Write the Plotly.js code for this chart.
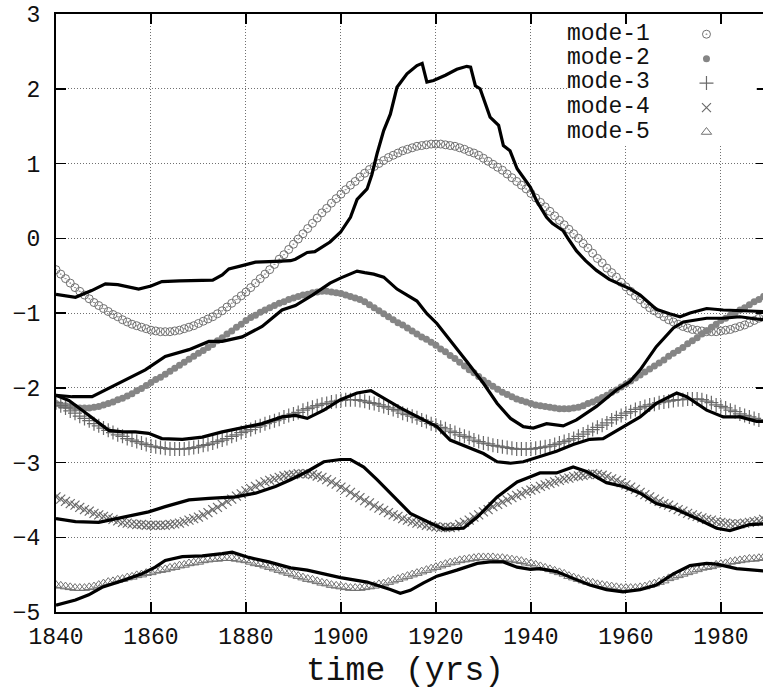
<!DOCTYPE html>
<html>
<head>
<meta charset="utf-8">
<script src="https://cdn.plot.ly/plotly-3.0.1.min.js"></script>
<style>
html,body{margin:0;padding:0;overflow:hidden;background:#fff;}
#chart{width:767px;height:689px;}
</style>
</head>
<body>
<div id="chart"></div>
<script>
// ---- data ----
const yearStart = 1840, yearEnd = 1989;
const years = [];
for (let y = yearStart; y <= yearEnd; y++) years.push(y);

const seriesNames = ["mode-1", "mode-2", "mode-3", "mode-4", "mode-5"];

const mode1 = [-0.42,-0.48,-0.54,-0.60,-0.66,-0.71,-0.76,-0.81,-0.86,-0.90,
-0.94,-0.98,-1.02,-1.05,-1.09,-1.12,-1.15,-1.17,-1.19,-1.21,
-1.23,-1.24,-1.25,-1.25,-1.25,-1.24,-1.23,-1.21,-1.19,-1.17,
-1.14,-1.11,-1.08,-1.05,-1.01,-0.97,-0.92,-0.87,-0.82,-0.77,
-0.72,-0.66,-0.60,-0.54,-0.48,-0.42,-0.35,-0.28,-0.22,-0.15,
-0.08,-0.01,0.06,0.13,0.20,0.27,0.34,0.40,0.47,0.53,
0.59,0.65,0.71,0.76,0.82,0.87,0.92,0.96,1.00,1.04,
1.08,1.11,1.14,1.17,1.19,1.21,1.23,1.24,1.25,1.26,
1.26,1.26,1.25,1.24,1.23,1.21,1.19,1.16,1.14,1.11,
1.07,1.03,0.99,0.95,0.91,0.86,0.81,0.76,0.71,0.66,
0.60,0.54,0.48,0.42,0.36,0.30,0.24,0.18,0.12,0.06,
0.00,-0.07,-0.13,-0.20,-0.27,-0.33,-0.40,-0.46,-0.52,-0.59,
-0.65,-0.71,-0.77,-0.82,-0.88,-0.93,-0.97,-1.01,-1.05,-1.09,
-1.12,-1.15,-1.18,-1.20,-1.22,-1.23,-1.24,-1.25,-1.25,-1.25,
-1.24,-1.23,-1.22,-1.20,-1.18,-1.16,-1.13,-1.10,-1.07,-1.03];

const mode2 = [-2.21,-2.23,-2.24,-2.25,-2.26,-2.27,-2.27,-2.27,-2.26,-2.25,
-2.23,-2.21,-2.19,-2.16,-2.14,-2.11,-2.08,-2.04,-2.01,-1.97,
-1.93,-1.89,-1.86,-1.82,-1.78,-1.74,-1.70,-1.66,-1.62,-1.58,
-1.54,-1.50,-1.46,-1.42,-1.37,-1.33,-1.28,-1.24,-1.19,-1.15,
-1.10,-1.06,-1.03,-0.99,-0.96,-0.93,-0.90,-0.87,-0.85,-0.82,
-0.80,-0.78,-0.76,-0.75,-0.73,-0.72,-0.71,-0.71,-0.72,-0.73,
-0.74,-0.76,-0.78,-0.80,-0.82,-0.85,-0.89,-0.93,-0.97,-1.01,
-1.05,-1.09,-1.13,-1.16,-1.20,-1.24,-1.28,-1.32,-1.35,-1.39,
-1.43,-1.48,-1.52,-1.57,-1.61,-1.66,-1.71,-1.76,-1.80,-1.85,
-1.90,-1.94,-1.98,-2.02,-2.06,-2.09,-2.12,-2.15,-2.17,-2.19,
-2.21,-2.23,-2.24,-2.25,-2.26,-2.27,-2.28,-2.28,-2.28,-2.27,
-2.26,-2.24,-2.21,-2.19,-2.16,-2.13,-2.10,-2.06,-2.03,-1.99,
-1.95,-1.91,-1.87,-1.83,-1.79,-1.75,-1.71,-1.67,-1.63,-1.58,
-1.54,-1.50,-1.46,-1.41,-1.37,-1.33,-1.28,-1.24,-1.19,-1.15,
-1.10,-1.07,-1.03,-1.00,-0.96,-0.93,-0.89,-0.85,-0.82,-0.78];

const mode3 = [-2.20,-2.24,-2.27,-2.31,-2.34,-2.38,-2.41,-2.44,-2.48,-2.51,
-2.54,-2.57,-2.60,-2.63,-2.65,-2.68,-2.70,-2.72,-2.74,-2.76,
-2.78,-2.79,-2.80,-2.81,-2.82,-2.82,-2.82,-2.82,-2.81,-2.80,
-2.79,-2.77,-2.76,-2.74,-2.72,-2.70,-2.68,-2.65,-2.63,-2.60,
-2.58,-2.56,-2.53,-2.51,-2.48,-2.46,-2.44,-2.42,-2.39,-2.37,
-2.35,-2.33,-2.30,-2.28,-2.26,-2.24,-2.22,-2.21,-2.19,-2.18,
-2.17,-2.16,-2.16,-2.16,-2.17,-2.18,-2.20,-2.21,-2.23,-2.25,
-2.27,-2.29,-2.31,-2.34,-2.36,-2.38,-2.40,-2.43,-2.45,-2.48,
-2.50,-2.53,-2.55,-2.58,-2.60,-2.63,-2.65,-2.67,-2.70,-2.72,
-2.74,-2.75,-2.77,-2.78,-2.79,-2.80,-2.81,-2.82,-2.82,-2.82,
-2.82,-2.81,-2.80,-2.79,-2.78,-2.76,-2.74,-2.72,-2.70,-2.68,
-2.65,-2.62,-2.59,-2.56,-2.53,-2.50,-2.47,-2.43,-2.40,-2.37,
-2.34,-2.32,-2.29,-2.27,-2.25,-2.23,-2.22,-2.20,-2.19,-2.18,
-2.17,-2.16,-2.16,-2.15,-2.15,-2.15,-2.16,-2.18,-2.20,-2.23,
-2.25,-2.27,-2.30,-2.32,-2.35,-2.37,-2.39,-2.41,-2.43,-2.45];

const mode4 = [-3.46,-3.49,-3.52,-3.55,-3.57,-3.60,-3.63,-3.65,-3.68,-3.70,
-3.72,-3.74,-3.76,-3.78,-3.80,-3.81,-3.82,-3.83,-3.83,-3.84,
-3.84,-3.84,-3.84,-3.84,-3.83,-3.82,-3.81,-3.79,-3.77,-3.75,
-3.73,-3.70,-3.67,-3.63,-3.60,-3.56,-3.52,-3.49,-3.45,-3.42,
-3.38,-3.35,-3.32,-3.29,-3.26,-3.24,-3.22,-3.20,-3.18,-3.17,
-3.16,-3.15,-3.15,-3.15,-3.16,-3.18,-3.20,-3.23,-3.26,-3.29,
-3.33,-3.36,-3.40,-3.44,-3.47,-3.51,-3.54,-3.58,-3.61,-3.64,
-3.67,-3.70,-3.72,-3.75,-3.77,-3.79,-3.81,-3.82,-3.84,-3.85,
-3.86,-3.87,-3.87,-3.87,-3.86,-3.83,-3.80,-3.77,-3.73,-3.70,
-3.66,-3.63,-3.59,-3.56,-3.53,-3.50,-3.47,-3.44,-3.42,-3.39,
-3.37,-3.35,-3.32,-3.30,-3.28,-3.26,-3.24,-3.22,-3.21,-3.19,
-3.18,-3.17,-3.16,-3.15,-3.16,-3.17,-3.19,-3.22,-3.24,-3.27,
-3.30,-3.33,-3.36,-3.40,-3.43,-3.46,-3.49,-3.52,-3.55,-3.57,
-3.60,-3.63,-3.65,-3.68,-3.70,-3.72,-3.74,-3.76,-3.77,-3.79,
-3.80,-3.81,-3.82,-3.82,-3.82,-3.81,-3.80,-3.79,-3.78,-3.76];

const mode5 = [-4.64,-4.65,-4.66,-4.67,-4.68,-4.68,-4.68,-4.67,-4.66,-4.64,
-4.62,-4.60,-4.59,-4.57,-4.56,-4.54,-4.53,-4.51,-4.50,-4.48,
-4.47,-4.45,-4.44,-4.43,-4.41,-4.40,-4.38,-4.37,-4.35,-4.34,
-4.33,-4.31,-4.30,-4.29,-4.29,-4.28,-4.28,-4.28,-4.29,-4.30,
-4.31,-4.33,-4.35,-4.36,-4.38,-4.40,-4.42,-4.44,-4.46,-4.48,
-4.50,-4.52,-4.54,-4.56,-4.57,-4.59,-4.61,-4.62,-4.64,-4.65,
-4.66,-4.67,-4.68,-4.68,-4.68,-4.67,-4.66,-4.65,-4.63,-4.62,
-4.60,-4.58,-4.56,-4.54,-4.52,-4.50,-4.48,-4.46,-4.44,-4.42,
-4.40,-4.38,-4.36,-4.34,-4.33,-4.31,-4.30,-4.29,-4.28,-4.27,
-4.27,-4.27,-4.27,-4.28,-4.28,-4.29,-4.30,-4.31,-4.32,-4.34,
-4.35,-4.37,-4.39,-4.41,-4.43,-4.45,-4.47,-4.49,-4.52,-4.54,
-4.56,-4.58,-4.60,-4.61,-4.63,-4.64,-4.65,-4.66,-4.67,-4.68,
-4.68,-4.68,-4.68,-4.67,-4.66,-4.64,-4.62,-4.60,-4.58,-4.55,
-4.53,-4.51,-4.49,-4.47,-4.45,-4.43,-4.41,-4.40,-4.39,-4.37,
-4.36,-4.35,-4.33,-4.32,-4.31,-4.30,-4.29,-4.29,-4.28,-4.27];

// observed (black) curves
const obs1Years = [1840,1844.1,1847.5,1850.4,1853,1857.4,1860,1862.3,1866,1870.8,1873,1875,1876.4,1879,1882,1886.2,1889.4,1890.4,1892.9,1894.5,1896,1897.7,1899.9,1902,1903.4,1905.5,1906.5,1907.6,1909,1910.4,1911.8,1913.9,1916,1917.1,1918.1,1919.5,1922,1924.4,1926.5,1927.3,1928.3,1929.3,1931.4,1933.2,1934.2,1935.6,1937.1,1938.4,1939.9,1941.2,1943.3,1944.5,1946.8,1948,1949.6,1951.5,1953.8,1956.5,1959.4,1961,1963,1966.4,1969.2,1971.4,1973.5,1977,1980.5,1984,1987.5,1989];
const obs1 = [-0.75,-0.79,-0.70,-0.61,-0.62,-0.68,-0.64,-0.58,-0.57,-0.57,-0.56,-0.49,-0.41,-0.37,-0.32,-0.31,-0.30,-0.28,-0.19,-0.18,-0.12,-0.05,0.08,0.28,0.52,0.66,0.85,1.13,1.44,1.66,2.02,2.20,2.31,2.34,2.09,2.11,2.18,2.26,2.30,2.29,2.04,2.00,1.62,1.51,1.24,1.17,0.93,0.81,0.68,0.50,0.28,0.20,0.10,-0.02,-0.17,-0.30,-0.43,-0.55,-0.63,-0.68,-0.76,-0.95,-1.01,-1.05,-1.00,-0.94,-0.96,-0.97,-0.98,-0.98];

const obs2Years = [1840,1843.4,1847.6,1850.4,1854,1858.8,1863,1868,1872.2,1875,1879.2,1883.4,1887.6,1890.4,1894,1897.7,1900,1903.4,1905,1906.9,1909,1911.8,1916,1918.1,1920.2,1923,1926.5,1930,1932.9,1935.7,1938.4,1940.5,1943.3,1946.8,1949.6,1953.8,1958,1960.8,1963,1966.4,1970,1972.1,1977,1980.5,1984,1987.5,1989];
const obs2 = [-2.10,-2.12,-2.12,-2.03,-1.92,-1.76,-1.58,-1.49,-1.38,-1.38,-1.32,-1.18,-0.96,-0.90,-0.76,-0.60,-0.53,-0.44,-0.46,-0.48,-0.52,-0.68,-0.84,-1.01,-1.14,-1.36,-1.65,-1.94,-2.21,-2.41,-2.52,-2.54,-2.48,-2.51,-2.43,-2.25,-2.03,-1.92,-1.76,-1.45,-1.20,-1.12,-1.07,-1.07,-1.05,-1.08,-1.09];

const obs3Years = [1840,1842.7,1845.5,1848.3,1851.1,1854,1856.7,1859.5,1862.3,1866.6,1870.8,1875,1879.2,1883.4,1887.6,1890.4,1892.9,1896.4,1899.9,1903.4,1906.3,1909,1912.5,1917.4,1920.2,1923,1926.5,1930,1932.9,1935.7,1938.4,1941.9,1945.4,1948.9,1952.4,1955.2,1959.4,1963,1966.4,1969.3,1970.7,1972.8,1977,1980.5,1984,1987.5,1989];
const obs3 = [-2.10,-2.17,-2.30,-2.43,-2.57,-2.59,-2.59,-2.61,-2.68,-2.69,-2.66,-2.59,-2.54,-2.48,-2.39,-2.37,-2.41,-2.30,-2.16,-2.07,-2.04,-2.14,-2.27,-2.43,-2.52,-2.70,-2.79,-2.88,-2.99,-3.01,-2.99,-2.92,-2.85,-2.76,-2.69,-2.68,-2.52,-2.39,-2.21,-2.12,-2.07,-2.12,-2.30,-2.39,-2.39,-2.45,-2.45];

const obs4Years = [1840,1844.1,1849,1854,1859.5,1863,1868,1872.2,1877.8,1882,1886.2,1889.4,1892.9,1896.4,1899.9,1902,1904.8,1907.6,1911.1,1914.6,1918.8,1921.6,1925.8,1928.7,1932.9,1937.1,1939.9,1941.9,1945.4,1948.9,1951.7,1955.9,1959.4,1963,1966.4,1970,1974.9,1979.1,1981.9,1986.1,1989];
const obs4 = [-3.75,-3.79,-3.80,-3.73,-3.66,-3.59,-3.50,-3.48,-3.46,-3.41,-3.32,-3.23,-3.12,-2.99,-2.96,-2.96,-3.06,-3.23,-3.46,-3.68,-3.81,-3.89,-3.88,-3.73,-3.46,-3.26,-3.19,-3.14,-3.14,-3.06,-3.12,-3.27,-3.32,-3.41,-3.55,-3.61,-3.75,-3.88,-3.91,-3.83,-3.82];

const obs5Years = [1840,1844.1,1846.9,1849.7,1854,1858.1,1860.9,1863,1866.6,1870.8,1875,1877.1,1880.6,1884.8,1889.4,1892.9,1896.4,1899.9,1905.5,1907.6,1910.4,1912.5,1914.6,1917.4,1920.2,1924.4,1928.7,1931.4,1934.2,1937.1,1939.9,1941.9,1945.4,1948.9,1952.4,1955.9,1959.4,1963,1966.4,1970,1973.5,1977,1979.1,1983.3,1989];
const obs5 = [-4.91,-4.84,-4.77,-4.67,-4.58,-4.49,-4.40,-4.31,-4.26,-4.25,-4.22,-4.20,-4.27,-4.33,-4.41,-4.44,-4.49,-4.54,-4.60,-4.64,-4.70,-4.75,-4.71,-4.61,-4.52,-4.44,-4.35,-4.33,-4.33,-4.40,-4.43,-4.42,-4.46,-4.55,-4.64,-4.70,-4.73,-4.70,-4.64,-4.49,-4.38,-4.35,-4.36,-4.42,-4.45];

const xTickVals = [1840,1860,1880,1900,1920,1940,1960,1980];
const yTickVals = [-5,-4,-3,-2,-1,0,1,2,3];
const xTitle = "time (yrs)";

// ---- styling ----
const FONT = "Liberation Mono, Courier New, monospace";
const GRAY = "#707070";
const modeData = [mode1, mode2, mode3, mode4, mode5];
const modeMarkers = [
  {symbol: "circle-open-dot", size: 8, color: GRAY, line: {width: 1, color: GRAY}},
  {symbol: "circle", size: 7, color: "#858585", line: {width: 0}},
  {symbol: "cross-thin-open", size: 10, color: "#6a6a6a", line: {width: 1.2, color: "#6a6a6a"}},
  {symbol: "x-thin-open", size: 9, color: "#6a6a6a", line: {width: 1.2, color: "#6a6a6a"}},
  {symbol: "triangle-up-open", size: 9, color: GRAY, line: {width: 1, color: GRAY}}
];

const traces = [];
modeData.forEach((vals, i) => {
  traces.push({
    type: "scatter", mode: "markers", x: years, y: vals,
    name: "", legendgroup: seriesNames[i], showlegend: true,
    marker: modeMarkers[i], hoverinfo: "skip"
  });
});
[[obs1Years, obs1], [obs2Years, obs2], [obs3Years, obs3], [obs4Years, obs4], [obs5Years, obs5]].forEach(([xs, ys]) => {
  traces.push({
    type: "scatter", mode: "lines", x: xs, y: ys, showlegend: false,
    line: {color: "#000", width: 3.2}, hoverinfo: "skip"
  });
});

const legendRowsY = [0.9661, 0.9259, 0.8858, 0.8440, 0.8022];
const annotations = seriesNames.map((n, i) => ({
  xref: "paper", yref: "paper", x: 0.717, y: legendRowsY[i],
  xanchor: "left", yanchor: "middle", text: n, showarrow: false,
  font: {family: FONT, size: 23, color: "#111"}, height: 22
}));
annotations.push({
  xref: "paper", yref: "paper", x: 0.4915, y: -0.0987,
  xanchor: "center", yanchor: "middle", text: xTitle, showarrow: false,
  font: {family: FONT, size: 33, color: "#111"}
});

const axisCommon = {
  showline: true, linecolor: "#000", linewidth: 2, mirror: "allticks",
  ticks: "inside", ticklen: 10, tickwidth: 1.5, tickcolor: "#000",
  showgrid: true, gridcolor: "#707070", gridwidth: 1, griddash: "1px,2px",
  zeroline: false, tickfont: {family: FONT, size: 23, color: "#111"}
};

const layout = {
  width: 767, height: 689,
  margin: {l: 56, r: 1, t: 14, b: 77, pad: 0},
  paper_bgcolor: "#fff", plot_bgcolor: "#fff",
  font: {family: FONT, color: "#111"},
  xaxis: Object.assign({}, axisCommon, {
    range: [1840, 1989.5], tickvals: xTickVals, ticktext: xTickVals.map(String),
    ticklabelstandoff: 2
  }),
  yaxis: Object.assign({}, axisCommon, {
    range: [-5, 3], tickvals: yTickVals, ticklabelstandoff: 9
  }),
  showlegend: true,
  legend: {
    x: 0.888, y: 0.995, xanchor: "left", yanchor: "top",
    bgcolor: "rgba(0,0,0,0)", borderwidth: 0,
    font: {family: FONT, size: 16.5}, traceorder: "normal", itemclick: false
  },
  shapes: [{
    type: "rect", xref: "paper", yref: "paper",
    x0: 0.7197, x1: 0.987, y0: 0.7826, y1: 0.9816,
    fillcolor: "#fff", line: {width: 0}, layer: "above"
  }],
  annotations: annotations
};

Plotly.newPlot("chart", traces, layout, {staticPlot: true, displayModeBar: false});
</script>
</body>
</html>
